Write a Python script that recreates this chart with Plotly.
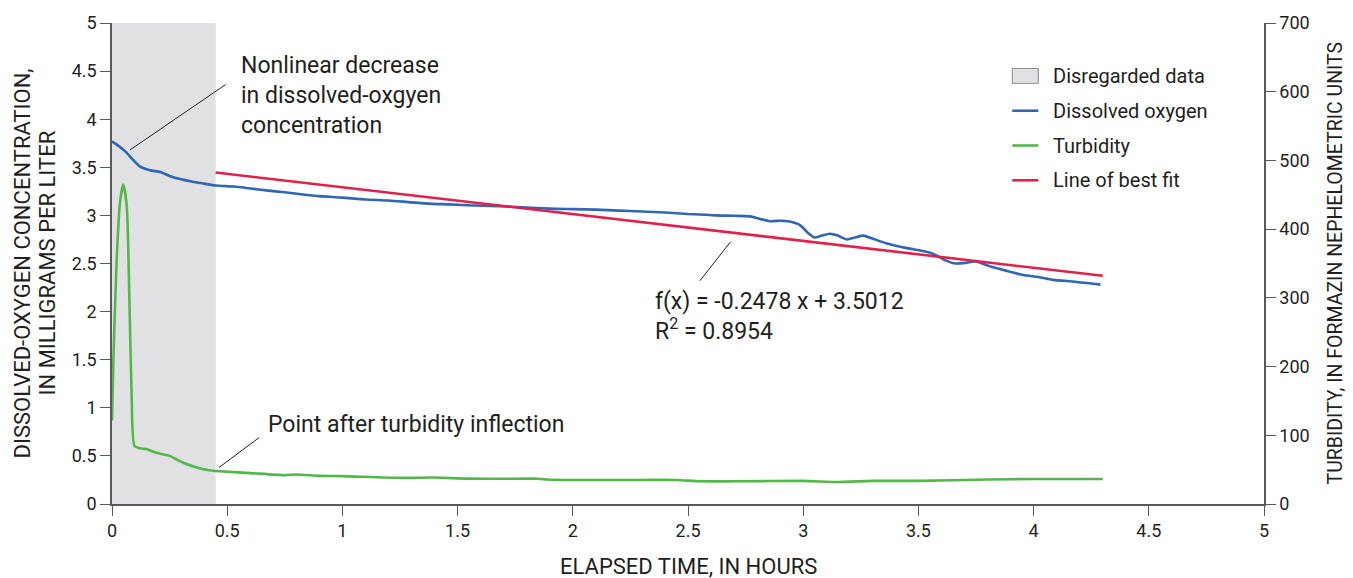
import plotly.graph_objects as go

# ---------------- data ----------------
do_time = [0.0, 0.03, 0.06, 0.09, 0.12, 0.165, 0.21, 0.25, 0.3, 0.35, 0.4, 0.45, 0.53, 0.6,
           0.67, 0.75, 0.82, 0.9, 1.0, 1.1, 1.2, 1.3, 1.39, 1.46, 1.54, 1.61, 1.68, 1.78, 1.9,
           2.0, 2.1, 2.2, 2.3, 2.4, 2.5, 2.552, 2.62, 2.7, 2.77, 2.81, 2.856, 2.9, 2.935, 2.986,
           3.02, 3.05, 3.08, 3.116, 3.15, 3.19, 3.225, 3.26, 3.3, 3.36, 3.45, 3.52, 3.565, 3.62,
           3.66, 3.7, 3.75, 3.8, 3.85, 3.955, 4.02, 4.085, 4.18, 4.29]
do_mg_l = [3.77, 3.72, 3.66, 3.58, 3.51, 3.47, 3.45, 3.41, 3.375, 3.35, 3.33, 3.31, 3.30, 3.28,
           3.26, 3.24, 3.22, 3.20, 3.185, 3.165, 3.155, 3.135, 3.12, 3.115, 3.105, 3.10, 3.096,
           3.085, 3.07, 3.065, 3.06, 3.05, 3.04, 3.03, 3.015, 3.01, 3.0, 2.996, 2.99, 2.965, 2.94,
           2.945, 2.94, 2.90, 2.82, 2.77, 2.79, 2.81, 2.79, 2.75, 2.77, 2.79, 2.76, 2.71, 2.66,
           2.63, 2.60, 2.53, 2.50, 2.505, 2.52, 2.48, 2.445, 2.38, 2.36, 2.33, 2.31, 2.28]

turb_time = [0.0, 0.006, 0.02, 0.035, 0.049, 0.064, 0.075, 0.085, 0.097, 0.12, 0.15, 0.18, 0.21,
             0.25, 0.28, 0.31, 0.35, 0.38, 0.42, 0.45, 0.6, 0.75, 0.8, 0.9, 1.0, 1.25, 1.4, 1.54,
             1.7, 1.85, 1.89, 2.0, 2.3, 2.45, 2.55, 2.7, 3.0, 3.15, 3.3, 3.5, 3.8, 4.0, 4.3]
turb_ntu = [121.5, 209, 353, 440, 465, 434, 305, 161, 85, 81, 80, 76, 73, 70, 65, 60, 55, 52,
            49, 48, 45, 42, 43, 41, 40.5, 38, 38.5, 37, 36.7, 36.8, 35.7, 35, 35, 35, 33, 33,
            33.6, 32, 33.6, 33.6, 35.7, 36.4, 36.4]

fit_time = [0.45, 4.3]
fit_mg_l = [3.446, 2.372]

disregard_range = [0.0, 0.45]

x_ticks = [0, 0.5, 1, 1.5, 2, 2.5, 3, 3.5, 4, 4.5, 5]
y_ticks = [0, 0.5, 1, 1.5, 2, 2.5, 3, 3.5, 4, 4.5, 5]
y2_ticks = [0, 100, 200, 300, 400, 500, 600, 700]

legend_labels = ["Disregarded data", "Dissolved oxygen", "Turbidity", "Line of best fit"]

# ---------------- style ----------------
FONT = "Roboto, Liberation Sans, sans-serif"
TXT = "#231f20"
BLUE = "#2f67b5"
GREEN = "#52b84a"
RED = "#e3204b"
GREY = "#e1e1e3"
AXIS = "#58595b"

fig = go.Figure()

fig.add_trace(go.Scatter(x=turb_time, y=turb_ntu, mode="lines", yaxis="y2",
                         line=dict(color=GREEN, width=2.6, shape="spline", smoothing=0.6),
                         showlegend=False, name=legend_labels[2]))
fig.add_trace(go.Scatter(x=do_time, y=do_mg_l, mode="lines",
                         line=dict(color=BLUE, width=2.6, shape="spline", smoothing=0.6),
                         showlegend=False, name=legend_labels[1]))
fig.add_trace(go.Scatter(x=fit_time, y=fit_mg_l, mode="lines",
                         line=dict(color=RED, width=2.6),
                         showlegend=False, name=legend_labels[3]))

shapes = [
    dict(type="rect", xref="x", yref="y", x0=disregard_range[0], x1=disregard_range[1],
         y0=0, y1=5, fillcolor=GREY, line=dict(width=0), layer="below"),
    # leader lines
    dict(type="line", xref="x", yref="y", x0=0.078, y0=3.68, x1=0.493, y1=4.36,
         line=dict(color=TXT, width=1)),
    dict(type="line", xref="x", yref="y", x0=0.464, y0=0.379, x1=0.638, y1=0.689,
         line=dict(color=TXT, width=1)),
    dict(type="line", xref="x", yref="y", x0=2.552, y0=2.321, x1=2.685, y1=2.727,
         line=dict(color=TXT, width=1)),
]

# manual legend (paper coords)
lx0, lx1, ltext = 0.7815, 0.8041, 0.8150
ly = [0.8900, 0.8176, 0.7453, 0.6730]
shapes.append(dict(type="rect", xref="paper", yref="paper", x0=lx0, x1=lx1,
                   y0=ly[0] - 0.0155, y1=ly[0] + 0.0155, fillcolor=GREY,
                   line=dict(color="#8a8a8c", width=1)))
for yy, col in zip(ly[1:], [BLUE, GREEN, RED]):
    shapes.append(dict(type="line", xref="paper", yref="paper", x0=lx0, x1=lx1,
                       y0=yy, y1=yy, line=dict(color=col, width=2.6)))

annotations = []
for yy, lab in zip(ly, legend_labels):
    annotations.append(dict(xref="paper", yref="paper", x=ltext, y=yy, text=lab,
                            showarrow=False, xanchor="left", yanchor="middle",
                            font=dict(size=20, color=TXT, family=FONT)))

annotations += [
    dict(xref="x", yref="y", x=0.551, y=4.25,
         text="Nonlinear decrease<br>in dissolved-oxgyen<br>concentration",
         showarrow=False, xanchor="left", yanchor="middle", align="left",
         font=dict(size=23, color=TXT, family=FONT)),
    dict(xref="x", yref="y", x=0.67, y=0.826, text="Point after turbidity inflection",
         showarrow=False, xanchor="left", yanchor="middle",
         font=dict(size=23, color=TXT, family=FONT)),
    dict(xref="x", yref="y", x=2.35, y=2.107, text="f(x) = -0.2478 x + 3.5012",
         showarrow=False, xanchor="left", yanchor="middle",
         font=dict(size=23, color=TXT, family=FONT)),
    dict(xref="x", yref="y", x=2.35, y=1.818, text="R<sup>2</sup> = 0.8954",
         showarrow=False, xanchor="left", yanchor="middle",
         font=dict(size=23, color=TXT, family=FONT)),
    # axis titles
    dict(xref="paper", yref="paper", x=0.5, y=0, yshift=-62, text="ELAPSED TIME, IN HOURS",
         showarrow=False, xanchor="center", yanchor="middle",
         font=dict(size=22, color=TXT, family=FONT)),
    dict(xref="paper", yref="paper", x=0, y=0.5, xshift=-90, textangle=-90,
         text="DISSOLVED-OXYGEN CONCENTRATION,", showarrow=False,
         xanchor="center", yanchor="middle", font=dict(size=22, color=TXT, family=FONT)),
    dict(xref="paper", yref="paper", x=0, y=0.5, xshift=-65, textangle=-90,
         text="IN MILLIGRAMS PER LITER", showarrow=False,
         xanchor="center", yanchor="middle", font=dict(size=22, color=TXT, family=FONT)),
    dict(xref="paper", yref="paper", x=1, y=0.5, xshift=71, textangle=-90,
         text="TURBIDITY, IN FORMAZIN NEPHELOMETRIC UNITS", showarrow=False,
         xanchor="center", yanchor="middle", font=dict(size=19.5, color=TXT, family=FONT)),
]

tickfont = dict(size=18, color=TXT, family=FONT)
fig.update_layout(
    width=1353, height=578,
    margin=dict(l=112, r=89, t=20, b=74),
    paper_bgcolor="white", plot_bgcolor="white",
    showlegend=False,
    xaxis=dict(range=[0, 5], tickvals=x_ticks, ticktext=[f"{v:g}" for v in x_ticks],
               ticks="outside", ticklen=10, tickcolor=AXIS, tickwidth=1.2,
               showline=True, linecolor=AXIS, linewidth=1.5, showgrid=False, zeroline=False,
               tickfont=tickfont),
    xaxis2=dict(range=[0, 5], tickvals=x_ticks, overlaying="x", side="top", anchor="y",
                ticks="inside", ticklen=9, tickcolor=AXIS, tickwidth=1.2,
                showline=True, linecolor=AXIS, linewidth=1.5, showgrid=False,
                zeroline=False, showticklabels=False),
    yaxis=dict(range=[0, 5], tickvals=y_ticks, ticktext=[f"{v:g}" for v in y_ticks],
               ticks="outside", ticklen=10, tickcolor=AXIS, tickwidth=1.2,
               showline=True, linecolor=AXIS, linewidth=1.5, showgrid=False, zeroline=False,
               tickfont=tickfont),
    yaxis2=dict(range=[0, 700], tickvals=y2_ticks, overlaying="y", side="right", anchor="x",
                ticks="outside", ticklen=10, tickcolor=AXIS, tickwidth=1.2,
                showline=True, linecolor=AXIS, linewidth=1.5, showgrid=False, zeroline=False,
                tickfont=tickfont),
    shapes=shapes,
    annotations=annotations,
)

fig.write_html("out.html", config={"displayModeBar": False},
               post_script="document.body.style.margin='0';document.body.style.overflow='hidden';")
